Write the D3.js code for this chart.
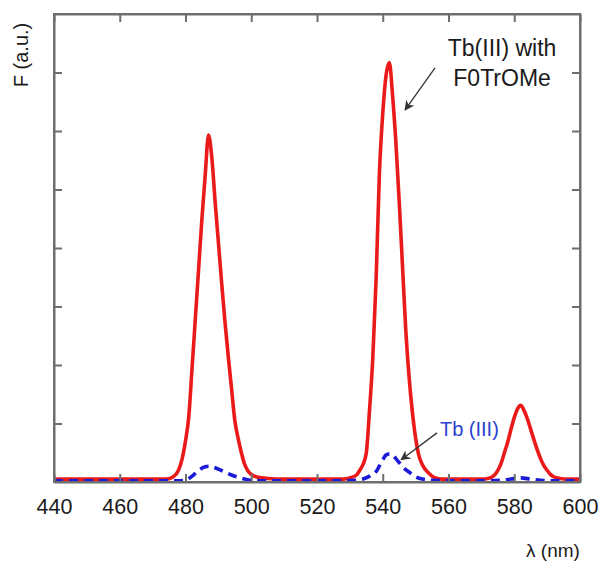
<!DOCTYPE html>
<html>
<head>
<meta charset="utf-8">
<script src="https://cdn.jsdelivr.net/npm/d3@7"></script>
<style>
  body { margin: 0; background: #fff; }
  svg { display: block; font-family: Arial, "Liberation Sans", sans-serif; }
  .axis path, .axis line { stroke: #6e6e6e; stroke-width: 2; }
  .axis text { fill: #1a1a1a; font-size: 21.5px; }
</style>
</head>
<body>
<svg id="chart" width="599" height="562"></svg>
<script>
// Emission spectra (wavelength nm, intensity a.u.)
const redWavelength = [440, 450, 460, 470, 474, 476, 478, 479, 480, 481, 482, 483, 484, 485, 486, 487, 488, 489, 490, 491, 492, 493, 494, 495, 496, 497, 498, 499, 500, 502, 505, 510, 520, 528, 530, 532, 533, 534, 535, 536, 537, 538, 539, 540, 541, 542, 543, 544, 545, 546, 547, 548, 549, 550, 551, 552, 554, 556, 558, 565, 570, 572, 574, 575, 576, 577, 578, 579, 580, 581, 582, 583, 584, 585, 586, 587, 588, 589, 590, 591, 592, 594, 596, 600];
const redIntensity = [0.05, 0.05, 0.05, 0.05, 0.05, 0.08, 0.22, 0.4, 0.7, 1.12, 1.95, 2.8, 3.65, 4.5, 5.25, 5.93, 5.55, 4.8, 4.1, 3.4, 2.74, 2.15, 1.6, 1.05, 0.75, 0.5, 0.3, 0.19, 0.13, 0.08, 0.06, 0.05, 0.05, 0.05, 0.07, 0.12, 0.2, 0.3, 0.5, 1.25, 2.15, 3.5, 5.3, 6.3, 6.95, 7.17, 6.6, 5.8, 4.8, 3.7, 2.6, 1.8, 1.2, 0.75, 0.45, 0.3, 0.15, 0.07, 0.05, 0.05, 0.05, 0.06, 0.12, 0.2, 0.32, 0.5, 0.68, 0.9, 1.1, 1.25, 1.31, 1.22, 1.08, 0.9, 0.72, 0.55, 0.4, 0.28, 0.2, 0.13, 0.09, 0.06, 0.05, 0.05];

const blueWavelength = [440, 460, 478, 480, 482, 484, 486, 487, 488, 490, 492, 494, 496, 498, 500, 505, 520, 528, 532, 534, 536, 538, 540, 541, 542, 543, 544, 545, 546, 548, 550, 552, 555, 560, 570, 576, 579, 582, 585, 588, 592, 600];
const blueIntensity = [0.02, 0.02, 0.02, 0.03, 0.1, 0.2, 0.26, 0.27, 0.26, 0.22, 0.17, 0.12, 0.08, 0.05, 0.03, 0.02, 0.02, 0.02, 0.03, 0.05, 0.1, 0.18, 0.38, 0.46, 0.48, 0.46, 0.4, 0.33, 0.26, 0.17, 0.09, 0.05, 0.03, 0.02, 0.02, 0.03, 0.05, 0.07, 0.05, 0.03, 0.02, 0.02];

const xTicks = [440, 460, 480, 500, 520, 540, 560, 580, 600];
const yTicks = [1, 2, 3, 4, 5, 6, 7];

// Annotation texts
const labelMain = ['Tb(III) with', 'F0TrOMe'];
const labelBlue = 'Tb (III)';

const margin = { top: 14, right: 19, bottom: 80, left: 54 };
const width = 599 - margin.left - margin.right;
const height = 562 - margin.top - margin.bottom;

const svg = d3.select('#chart');
const g = svg.append('g').attr('transform', `translate(${margin.left},${margin.top})`);

const x = d3.scaleLinear().domain([440, 600]).range([0, width]);
const y = d3.scaleLinear().domain([0, 8]).range([height, 0]);

// Arrow head
const defs = svg.append('defs');
defs.append('marker')
  .attr('id', 'arrow')
  .attr('viewBox', '0 0 10 10')
  .attr('refX', 9).attr('refY', 5)
  .attr('markerWidth', 10).attr('markerHeight', 10)
  .attr('markerUnits', 'userSpaceOnUse')
  .attr('orient', 'auto')
  .append('path')
  .attr('d', 'M0,0 L10,5 L0,10 L3,5 Z')
  .attr('fill', '#333');

defs.append('clipPath').attr('id', 'clip')
  .append('rect').attr('width', width).attr('height', height);

// Curves
const line = d3.line()
  .x(d => x(d[0]))
  .y(d => y(d[1]))
  .curve(d3.curveMonotoneX);

const curves = g.append('g').attr('clip-path', 'url(#clip)');

curves.append('path')
  .datum(redWavelength.map((w, i) => [w, redIntensity[i]]))
  .attr('d', line)
  .attr('fill', 'none')
  .attr('stroke', '#ea1a1a')
  .attr('stroke-width', 3.6)
  .attr('stroke-linejoin', 'round');

curves.append('path')
  .datum(blueWavelength.map((w, i) => [w, blueIntensity[i]]))
  .attr('d', line)
  .attr('fill', 'none')
  .attr('stroke', '#1a1ad8')
  .attr('stroke-width', 3.6)
  .attr('stroke-dasharray', '9,6');

// Axes (ticks point inward on all four sides)
g.append('g')
  .attr('class', 'axis')
  .attr('transform', `translate(0,${height})`)
  .call(d3.axisBottom(x).tickValues(xTicks).tickSizeInner(-8).tickSizeOuter(0).tickPadding(17));

g.append('g')
  .attr('class', 'axis')
  .call(d3.axisTop(x).tickValues(xTicks).tickSizeInner(-8).tickSizeOuter(0).tickFormat(''));

g.append('g')
  .attr('class', 'axis')
  .call(d3.axisLeft(y).tickValues(yTicks).tickSizeInner(-8).tickSizeOuter(0).tickFormat(''));

g.append('g')
  .attr('class', 'axis')
  .attr('transform', `translate(${width},0)`)
  .call(d3.axisRight(y).tickValues(yTicks).tickSizeInner(-8).tickSizeOuter(0).tickFormat(''));

g.append('rect')
  .attr('width', width).attr('height', height)
  .attr('fill', 'none')
  .attr('stroke', '#6e6e6e')
  .attr('stroke-width', 2);

// Axis titles
svg.append('text')
  .attr('transform', 'translate(28,55) rotate(-90)')
  .attr('text-anchor', 'middle')
  .attr('font-size', 20)
  .attr('fill', '#1a1a1a')
  .text('F (a.u.)');

svg.append('text')
  .attr('x', 553).attr('y', 557)
  .attr('text-anchor', 'middle')
  .attr('font-size', 19)
  .attr('fill', '#1a1a1a')
  .text('λ (nm)');

// Annotations, placed in data units
g.append('text')
  .attr('text-anchor', 'middle')
  .attr('font-size', 23)
  .attr('fill', '#1a1a1a')
  .selectAll('tspan')
  .data(labelMain)
  .enter()
  .append('tspan')
  .attr('x', x(576.3))
  .attr('y', (d, i) => y(i === 0 ? 7.28 : 6.77))
  .text(d => d);

g.append('line')
  .attr('x1', x(555.9)).attr('y1', y(7.08))
  .attr('x2', x(546.8)).attr('y2', y(6.36))
  .attr('stroke', '#333').attr('stroke-width', 1.3)
  .attr('marker-end', 'url(#arrow)');

g.append('text')
  .attr('x', x(557.4)).attr('y', y(0.79))
  .attr('font-size', 20)
  .attr('fill', '#2b3fd0')
  .text(labelBlue);

g.append('line')
  .attr('x1', x(556.5)).attr('y1', y(0.84))
  .attr('x2', x(545.6)).attr('y2', y(0.38))
  .attr('stroke', '#333').attr('stroke-width', 1.3)
  .attr('marker-end', 'url(#arrow)');
</script>
</body>
</html>
